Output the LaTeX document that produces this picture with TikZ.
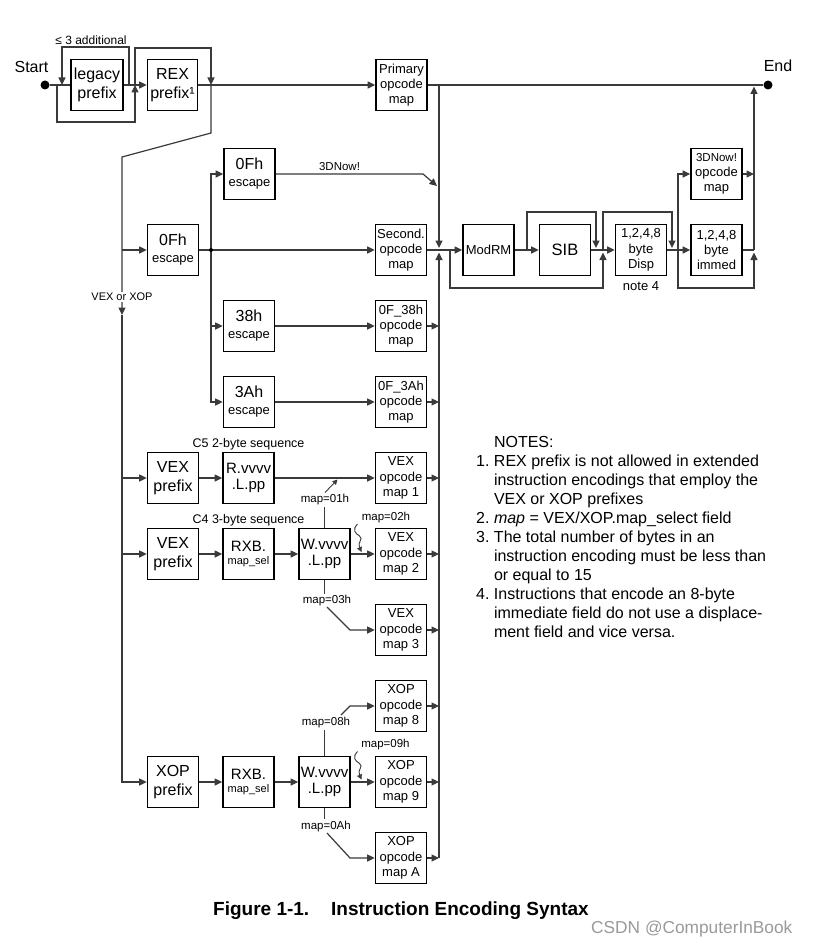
\documentclass[tikz,border=0pt]{standalone}
\usepackage{fontspec}
\setmainfont{Liberation Sans}
\usetikzlibrary{arrows.meta}
\definecolor{lncol}{HTML}{3A3A3A}
\definecolor{wmcol}{HTML}{9A9A9A}
\newcommand{\fsz}[2]{\fontsize{#1}{#2}\selectfont}
\begin{document}
\begin{tikzpicture}[x=1pt,y=-1pt,
  box/.style={draw=black, line width=1.7pt, inner sep=0pt, minimum width=51pt, minimum height=51pt, align=center, font=\fsz{13}{15.3}},
  bigbox/.style={box, font=\fsz{16}{19}},
  escbox/.style={box, font=\fsz{13}{17}},
  midbox/.style={box, font=\fsz{15}{16.5}},
  rxbbox/.style={box, font=\fsz{15}{13.5}},
  conn/.style={draw=lncol, line width=1.2pt},
  arr/.style={conn, -{Triangle[length=7.5pt,width=7pt]}},
  sarr/.style={conn, line width=0.9pt, -{Triangle[length=5pt,width=5pt]}},
  bigdot/.style={circle, fill=black, inner sep=0pt, minimum size=9pt},
  smalldot/.style={circle, fill=black, inner sep=0pt, minimum size=4pt},
  lbl/.style={inner sep=0pt, font=\fsz{11.5}{13}},
]
\useasboundingbox (0,0) rectangle (821,947);
\fill[white] (0,0) rectangle (821,947);

% ---------- terminals ----------
\node[bigdot] (start) at (45,85) {};
\node[anchor=base, inner sep=0pt, font=\fsz{16}{18}] (starttxt) at (31.5,73) {Start};
\node[bigdot] (end) at (768,85) {};
\node[anchor=base, inner sep=0pt, font=\fsz{16}{18}] (endtxt) at (778,72) {End};

% ---------- boxes ----------
\node[bigbox, minimum width=52pt] (legacy) at (97,85) {legacy\\prefix};
\node[bigbox, minimum width=50pt] (rex) at (172.5,85) {REX\\prefix¹};
\node[box] (primary) at (401.5,85) {Primary\\opcode\\map};

\node[escbox] (esc0fa) at (249.5,174) {{\fsz{16}{17}0Fh}\\escape};
\node[escbox] (esc0fb) at (173,250) {{\fsz{16}{17}0Fh}\\escape};
\node[box] (second) at (401,250) {Second.\\opcode\\map};
\node[escbox] (esc38) at (249,326) {{\fsz{16}{17}38h}\\escape};
\node[box] (map38) at (401,326) {0F\_38h\\opcode\\map};
\node[escbox] (esc3a) at (249,402) {{\fsz{16}{17}3Ah}\\escape};
\node[box] (map3a) at (401,402) {0F\_3Ah\\opcode\\map};

\node[box] (modrm) at (488.5,250) {ModRM};
\node[box, font=\fsz{16.5}{18}] (sib) at (565,250) {SIB};
\node[box] (disp) at (641,250) {1,2,4,8\\byte\\Disp};
\node[box] (immed) at (716.5,250) {1,2,4,8\\byte\\immed};
\node[box] (now3d) at (716.5,174) {{\fsz{11.5}{13}3DNow!}\\opcode\\map};

\node[bigbox] (vex1) at (173,478) {VEX\\prefix};
\node[midbox] (rvvvv) at (248.5,478) {R.vvvv\\.L.pp};
\node[box] (vmap1) at (401,478) {VEX\\opcode\\map 1};
\node[bigbox] (vex2) at (173,554) {VEX\\prefix};
\node[rxbbox] (rxb1) at (248.5,554) {RXB.\\{\fsz{11}{13}map\_sel}};
\node[midbox] (w1) at (324.5,554) {W.vvvv\\.L.pp};
\node[box] (vmap2) at (401,554) {VEX\\opcode\\map 2};
\node[box] (vmap3) at (401,630) {VEX\\opcode\\map 3};

\node[box] (xmap8) at (401,706) {XOP\\opcode\\map 8};
\node[bigbox] (xop) at (173,782) {XOP\\prefix};
\node[rxbbox] (rxb2) at (248.5,782) {RXB.\\{\fsz{11}{13}map\_sel}};
\node[midbox] (w2) at (324.5,782) {W.vvvv\\.L.pp};
\node[box] (xmap9) at (401,782) {XOP\\opcode\\map 9};
\node[box] (xmapA) at (401,858) {XOP\\opcode\\map A};

% ---------- main line ----------
\draw[conn] (start) -- (legacy.west);
\draw[arr] (legacy.east) -- (rex.west);
\draw[arr] (rex.east) -- (primary.west);
\draw[conn] (primary.east) -- (end);

% repeat loop and bypasses
\coordinate (lpA) at (129,85);
\coordinate (lpB) at (62,85);
\draw[arr] (lpA) -- (129,47) -| (lpB);
\coordinate (bpA) at (57,85);
\coordinate (bpB) at (135,85);
\draw[arr] (bpA) -- (57,122) -| (bpB);
\coordinate (rxB) at (211,85);
\draw[arr] (bpB) -- (135,48) -| (rxB);

% spine
\coordinate (vexor) at (122,315);
\draw[arr] (rxB) -- (211,133) -- (122,157) -- (vexor);
\draw[arr] (vexor) |- (xop.west);
\draw[arr] (vexor |- esc0fb.west) -- (esc0fb.west);
\draw[arr] (vexor |- vex1.west) -- (vex1.west);
\draw[arr] (vexor |- vex2.west) -- (vex2.west);

% escapes
\draw[arr] (esc0fb.east) -- (second.west);
\coordinate (ej) at (211,250);
\draw[arr] (ej) |- (esc0fa.west);
\draw[arr] (ej) |- (esc38.west);
\draw[arr] (ej) |- (esc3a.west);
\node[smalldot] (ejdot) at (ej) {};
\draw[arr] (esc0fa.east) -- (423,174) -- (437,186);
\draw[arr] (esc38) -- (map38);
\draw[arr] (esc3a) -- (map3a);

% collector
\coordinate (cTop) at (439,85);
\draw[arr] (cTop) -- (439,248);
\draw[arr] (439,858) -- (439,252.5);
\foreach \n in {map38,map3a,vmap1,vmap2,vmap3,xmap8,xmap9,xmapA}
  \draw[arr] (\n.east) -- (\n.east -| cTop);

% ModRM / SIB / Disp / Imm chain
\draw[arr] (second.east) -- (modrm.west);
\draw[arr] (modrm) -- (sib);
\draw[arr] (sib) -- (disp);
\draw[arr] (disp) -- (immed);
\draw[arr] (450,250) -- (450,288) -| (603,252.5);
\draw[arr] (527,250) -- (527,212) -| (596,248);
\draw[arr] (603,250) -- (603,212) -| (672,248);
\draw[arr] (678,250) |- (now3d.west);
\draw[arr] (678,250) -- (678,288) -| (754,252.5);
\draw[conn] (immed.east) -- (754,250);
\draw[arr] (now3d.east) -- (754,174);
\draw[arr] (754,250) -- (754,86.5);

% VEX chains
\draw[arr] (vex1) -- (rvvvv);
\draw[arr] (rvvvv) -- (vmap1);
\draw[arr] (vex2) -- (rxb1);
\draw[arr] (rxb1) -- (w1);
\draw[arr] (w1) -- (vmap2);
\draw[conn] (w1.north) -- (324.5,507);
\draw[sarr] (325,492.5) -- (337.5,479.5);
\draw[conn] (w1.south) -- (324.5,594);
\draw[arr] (327,607) -- (350,630) -- (vmap3.west);
\draw[sarr] (357.5,524) .. controls (352,530) and (355,533) .. (359.5,536)
   .. controls (364,539) and (357,542) .. (361.5,552);

% XOP chain
\draw[arr] (xop) -- (rxb2);
\draw[arr] (rxb2) -- (w2);
\draw[arr] (w2) -- (xmap9);
\draw[conn] (w2.north) -- (324.5,730);
\draw[arr] (341,715) -- (350,706) -- (xmap8.west);
\draw[conn] (w2.south) -- (324.5,819);
\draw[arr] (327,833) -- (350,858) -- (xmapA.west);
\draw[sarr] (357.5,751.5) .. controls (352,757.5) and (355,760.5) .. (359.5,763.5)
   .. controls (364,766.5) and (357,769.5) .. (361.5,779.5);

% ---------- labels ----------
\node[lbl, anchor=base, font=\fsz{12}{14}] (ladd) at (91,45) {≤ 3 additional};
\node[lbl, anchor=base] (l3dn) at (339.5,170) {3DNow!};
\node[lbl, font=\fsz{11}{13}, fill=white, inner sep=1.5pt] (lvx) at (122,297) {VEX or XOP};
\node[lbl, anchor=base, font=\fsz{12.5}{14}] (lc5) at (248.5,447) {C5 2-byte sequence};
\node[lbl, anchor=base, font=\fsz{12.5}{14}] (lc4) at (248.5,523) {C4 3-byte sequence};
\node[lbl] (lm01) at (325,500) {map=01h};
\node[lbl] (lm02) at (386,517.5) {map=02h};
\node[lbl] (lm03) at (327,601) {map=03h};
\node[lbl] (lm08) at (326,722.5) {map=08h};
\node[lbl] (lm09) at (385.5,744.5) {map=09h};
\node[lbl] (lm0a) at (326,826.5) {map=0Ah};
\node[lbl, anchor=base, font=\fsz{13}{15}] (ln4) at (641,290) {note 4};

% ---------- notes ----------
\node[anchor=north west, inner sep=0pt, font=\fsz{16}{19.05}] (notes) at (476,433.7) {%
\begin{tabular}{@{}l@{\hspace{4.45pt}}l@{}}
 & NOTES:\\
1. & REX prefix is not allowed in extended\\
 & instruction encodings that employ the\\
 & VEX or XOP prefixes\\
2. & \textit{map} = VEX/XOP.map\_select field\\
3. & The total number of bytes in an\\
 & instruction encoding must be less than\\
 & or equal to 15\\
4. & Instructions that encode an 8-byte\\
 & immediate field do not use a displace-\\
 & ment field and vice versa.
\end{tabular}};

% ---------- caption ----------
\node[anchor=base west, inner sep=0pt, font=\bfseries\fsz{19}{21}] (capa) at (213,915) {Figure 1-1.};
\node[anchor=base west, inner sep=0pt, font=\bfseries\fsz{19}{21}] (capb) at (331,915) {Instruction Encoding Syntax};
\node[anchor=base west, inner sep=0pt, font=\fsz{17.3}{20}, text=wmcol] (wm) at (591,933) {CSDN @ComputerInBook};
\end{tikzpicture}
\end{document}
